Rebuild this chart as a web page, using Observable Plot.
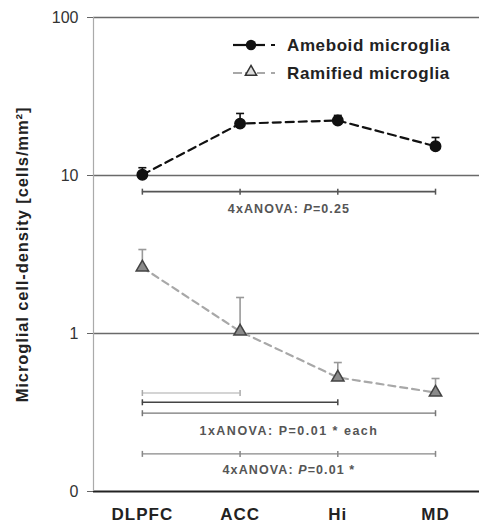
<!DOCTYPE html>
<html>
<head>
<meta charset="utf-8">
<script src="https://cdn.jsdelivr.net/npm/d3@7"></script>
<script src="https://cdn.jsdelivr.net/npm/@observablehq/plot@0.6"></script>
<style>
  html, body { margin: 0; padding: 0; background: #fff; }
  #wrap { position: relative; width: 479px; height: 524px; font-family: "Liberation Sans", Arial, sans-serif; }
  #legend { position: absolute; left: 0; top: 0; }
</style>
</head>
<body>
<div id="wrap"></div>
<script>
// ---- data ----
const regions = ["DLPFC", "ACC", "Hi", "MD"];
const amoeboid = [10.1, 21.3, 22.3, 15.3];
const amoeboidUpper = [11.2, 24.7, 24.0, 17.4];
const ramified = [2.62, 1.03, 0.527, 0.423];
const ramifiedUpper = [3.4, 1.69, 0.655, 0.519];
const yTicks = [0.1, 1, 10, 100];
const yLabel = "Microglial cell-density [cells/mm²]";
const seriesNames = ["Ameboid microglia", "Ramified microglia"];

// significance brackets (category index from/to, y level in data units)
const bracketFrom = [0, 0, 0, 0, 0];
const bracketTo = [3, 1, 2, 3, 3];
const bracketY = [7.9, 0.42, 0.367, 0.313, 0.173];
const bracketMarks = [[0, 1, 2, 3], [0, 1], [0, 2], [0, 3], [0, 1, 2, 3]];
const statLabels = ["4xANOVA: P=0.25", "1xANOVA: P=0.01 * each", "4xANOVA: P=0.01 *"];
const statY = [6.18, 0.241, 0.137];
const statX = [1.5, 1.5, 1.5];

// ---- tables ----
const amo = regions.map((r, i) => ({i, v: amoeboid[i], u: amoeboidUpper[i]}));
const ram = regions.map((r, i) => ({i, v: ramified[i], u: ramifiedUpper[i]}));
const brackets = bracketFrom.map((f, k) => ({k, x1: f, x2: bracketTo[k], y: bracketY[k]}));
const bracketTicks = bracketMarks.flatMap((arr, k) => arr.map(x => ({k, x, y: bracketY[k]})));
const stats = statLabels.map((t, k) => ({k, t, x: statX[k], y: statY[k]}));

const bStroke = ["#555", "#aaa", "#444", "#777", "#888"];
const bWidth = [1.6, 1.1, 1.6, 1.3, 1.1];

const hCap = {draw(ctx, size) { const r = Math.sqrt(size / Math.PI); ctx.moveTo(-r, 0); ctx.lineTo(r, 0); }};
const vTick = {draw(ctx, size) { const r = Math.sqrt(size / Math.PI); ctx.moveTo(0, -r); ctx.lineTo(0, r); }};

const xDomain = [-0.5, 3.45];

const plot = Plot.plot({
  width: 479,
  height: 524,
  marginLeft: 93,
  marginRight: 0,
  marginTop: 17,
  marginBottom: 33,
  style: {fontFamily: "'Liberation Sans', Arial, sans-serif", background: "#fff", overflow: "visible"},
  x: {type: "linear", domain: xDomain, axis: null},
  y: {type: "log", domain: [yTicks[0], yTicks[yTicks.length - 1]], axis: null},
  marks: [
    // gridlines
    Plot.ruleY(yTicks.slice(1), {stroke: "#6a6a6a", strokeWidth: 1.6}),
    Plot.ruleY(yTicks.slice(0, 1), {stroke: "#222", strokeWidth: 2}),
    Plot.ruleX([xDomain[0]], {stroke: "#aaa", strokeWidth: 1.2}),
    Plot.axisY({ticks: yTicks, tickFormat: d => d === 0.1 ? "0" : String(d), tickSize: 6, tickPadding: 9,
      fontSize: 16, fill: "#333", stroke: "#666", label: null}),
    Plot.axisX({ticks: [0, 1, 2, 3], tickFormat: i => regions[i], tickSize: 0, tickPadding: 16,
      fontSize: 17, fontWeight: "bold", fill: "#222", label: null}),
    Plot.text([yLabel], {frameAnchor: "left", textAnchor: "middle", rotate: -90, dx: -71, fontSize: 16.5, fontWeight: "bold", fill: "#222"}),
    // brackets
    Plot.ruleY(brackets, {x1: "x1", x2: "x2", y: "y", stroke: d => bStroke[d.k], strokeWidth: d => bWidth[d.k]}),
    Plot.dot(bracketTicks, {x: "x", y: "y", symbol: vTick, r: 3, fill: "none", stroke: d => bStroke[d.k], strokeWidth: 1.5}),
    Plot.text(stats, {x: "x", y: "y", text: "t", fontSize: 12.5, fontWeight: "bold", fill: "#555"}),
    // ramified
    Plot.ruleX(ram, {x: "i", y1: "v", y2: "u", stroke: "#999", strokeWidth: 1.6}),
    Plot.dot(ram, {x: "i", y: "u", symbol: hCap, r: 4, fill: "none", stroke: "#999", strokeWidth: 1.6}),
    Plot.line(ram, {x: "i", y: "v", stroke: "#a8a8a8", strokeWidth: 2.2, strokeDasharray: "7,5"}),
    Plot.dot(ram, {x: "i", y: "v", symbol: "triangle", r: 4.6, fill: "#8a8a8a", stroke: "#444", strokeWidth: 1.5}),
    // amoeboid
    Plot.ruleX(amo, {x: "i", y1: "v", y2: "u", stroke: "#111", strokeWidth: 1.6}),
    Plot.dot(amo, {x: "i", y: "u", symbol: hCap, r: 4, fill: "none", stroke: "#111", strokeWidth: 1.6}),
    Plot.line(amo, {x: "i", y: "v", stroke: "#111", strokeWidth: 2.2, strokeDasharray: "8,5"}),
    Plot.dot(amo, {x: "i", y: "v", r: 5.2, fill: "#111", stroke: "#111"})
  ]
});

// typographic tweaks: italic P, letter spacing
const SVGNS = "http://www.w3.org/2000/svg";
plot.querySelectorAll("text").forEach(el => {
  const t = el.textContent;
  if (t === yLabel) el.setAttribute("letter-spacing", "0.9");
  if (regions.includes(t)) el.setAttribute("letter-spacing", "1");
  if (statLabels.includes(t)) el.setAttribute("letter-spacing", t.startsWith("1x") ? "1.5" : "1.1");
  if (t.startsWith("4xANOVA")) {
    const [a, b] = t.split("P=");
    el.textContent = "";
    const s1 = document.createElementNS(SVGNS, "tspan"); s1.textContent = a;
    const s2 = document.createElementNS(SVGNS, "tspan"); s2.textContent = "P"; s2.setAttribute("font-style", "italic");
    const s3 = document.createElementNS(SVGNS, "tspan"); s3.textContent = "=" + b;
    el.append(s1, s2, s3);
  }
});

const wrap = document.getElementById("wrap");
wrap.appendChild(plot);

// legend overlay
const lg = d3.select(wrap).append("svg").attr("id", "legend").attr("width", 479).attr("height", 100)
  .style("font-family", "'Liberation Sans', Arial, sans-serif");
const rows = [
  {y: 45, stroke: "#111", dash: null, sym: "circle"},
  {y: 73, stroke: "#a8a8a8", dash: "9,3", sym: "triangle"}
];
rows.forEach((r, k) => {
  const g = lg.append("g");
  g.append("line").attr("x1", 233).attr("x2", 265).attr("y1", r.y).attr("y2", r.y)
    .attr("stroke", r.stroke).attr("stroke-width", 2.2).attr("stroke-dasharray", r.dash);
  g.append("line").attr("x1", 271).attr("x2", 275).attr("y1", r.y).attr("y2", r.y)
    .attr("stroke", r.stroke).attr("stroke-width", 2);
  if (r.sym === "circle") {
    g.append("circle").attr("cx", 251).attr("cy", r.y).attr("r", 5.2).attr("fill", "#111");
  } else {
    g.append("path").attr("d", d3.symbol(d3.symbolTriangle, 55)()).attr("transform", `translate(251,${r.y - 1})`)
      .attr("fill", "#ddd").attr("stroke", "#333").attr("stroke-width", 1.5);
  }
  g.append("text").attr("x", 287).attr("y", r.y).attr("dy", "0.35em").attr("font-size", 17)
    .attr("font-weight", "bold").attr("fill", "#222").attr("letter-spacing", "0.6").text(seriesNames[k]);
});
</script>
</body>
</html>
